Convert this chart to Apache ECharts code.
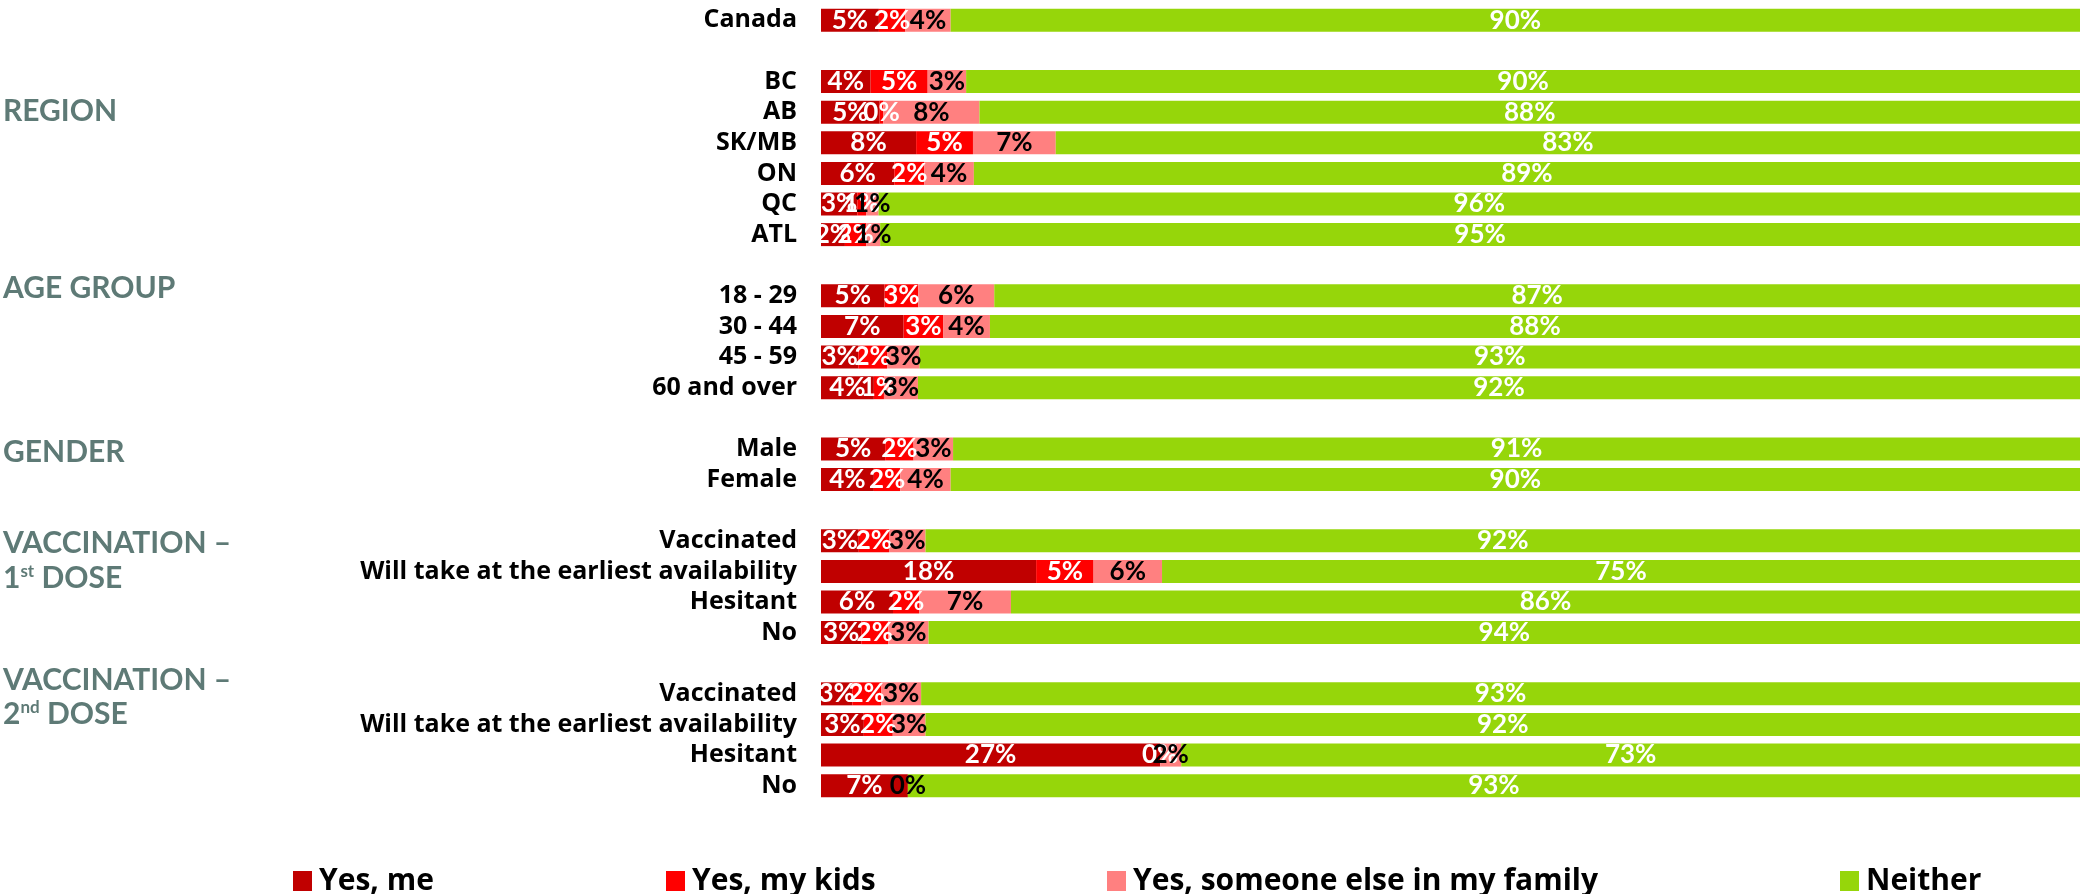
<!DOCTYPE html>
<html>
<head>
<meta charset="utf-8">
<script src="https://cdn.jsdelivr.net/npm/echarts@6/dist/echarts.min.js"></script>
<style>
  html, body { margin: 0; padding: 0; background: #ffffff; }
  #chart { width: 2080px; height: 894px; }
</style>
</head>
<body>
<div id="chart"></div>
<script>
// Row labels (blank strings are spacer rows between groups)
const categories = [
  'Canada', '',
  'BC', 'AB', 'SK/MB', 'ON', 'QC', 'ATL', '',
  '18 - 29', '30 - 44', '45 - 59', '60 and over', '',
  'Male', 'Female', '',
  'Vaccinated', 'Will take at the earliest availability', 'Hesitant', 'No', '',
  'Vaccinated', 'Will take at the earliest availability', 'Hesitant', 'No'
];
const seriesNames = ['Yes, me', 'Yes, my kids', 'Yes, someone else in my family', 'Neither'];

// Estimated raw percentages ('-' = spacer / no bar)
const yesMe = [4.6, '-', 4.0, 4.7, 7.7, 5.9, 2.9, 1.9, '-', 5.1, 6.7, 3.0, 4.2, '-', 5.2, 4.2, '-', 3.0, 17.6, 5.8, 3.3, '-', 2.5, 3.4, 27.4, 6.9];
const yesKids = [2.1, '-', 4.6, 0.3, 4.6, 2.4, 0.7, 1.7, '-', 2.7, 3.2, 2.3, 0.8, '-', 2.3, 2.1, '-', 2.4, 4.7, 2.1, 2.2, '-', 2.3, 2.3, 0, '-'];
const yesFamily = [3.6, '-', 3.1, 7.7, 6.7, 4.0, 1.0, 1.1, '-', 6.1, 3.8, 2.6, 2.7, '-', 3.2, 4.0, '-', 2.9, 5.6, 7.4, 3.3, '-', 3.2, 2.6, 1.7, 0];
const neither = [89.7, '-', 89.8, 88.2, 82.9, 89.0, 96.0, 95.3, '-', 87.1, 88.4, 93.1, 92.3, '-', 91.3, 89.7, '-', 91.7, 75.1, 86.1, 94.2, '-', 92.6, 91.7, 72.6, 93.1];

// Group headings on the left
const groupHeadings = ['REGION', 'AGE GROUP', 'GENDER', 'VACCINATION –', 'VACCINATION –'];

const colors = ['#C00000', '#FF0000', '#FF8080', '#96D60A'];
const labelColors = ['#ffffff', '#ffffff', '#000000', '#ffffff'];
const allSeries = [yesMe, yesKids, yesFamily, neither];

const num = v => (typeof v === 'number' ? v : 0);
const rowTotals = categories.map((c, i) => allSeries.reduce((s, arr) => s + num(arr[i]), 0));

const FONT = 'Lato, "Noto Sans", sans-serif';
const FONT2 = '"Open Sans", "Noto Sans", sans-serif';

const series = allSeries.map((arr, si) => ({
  name: seriesNames[si],
  type: 'bar',
  stack: 'total',
  barWidth: 23,
  itemStyle: { color: colors[si] },
  label: {
    show: true,
    position: 'inside',
    color: labelColors[si],
    fontFamily: FONT,
    fontWeight: 'bold',
    fontSize: 26,
    formatter: p => (p.data && p.data.raw !== undefined ? Math.round(p.data.raw) + '%' : '')
  },
  data: arr.map((v, i) => (typeof v === 'number'
    ? { value: v / rowTotals[i] * 100, raw: v }
    : '-'))
}));

const chart = echarts.init(document.getElementById('chart'));
const GREY = '#5E7A76';
const groupStyle = { fill: GREY, font: 'bold 30px ' + FONT, verticalAlign: 'middle' };
const big = { fill: GREY, fontSize: 30, fontWeight: 'bold', fontFamily: FONT };
const sup = { fill: GREY, fontSize: 17, fontWeight: 'bold', fontFamily: FONT, padding: [0, 0, 12, 0] };

chart.setOption({
  backgroundColor: '#ffffff',
  animation: false,
  grid: { left: 821, right: 0, top: 5, bottom: 93 },
  xAxis: { type: 'value', min: 0, max: 100, show: false },
  yAxis: {
    type: 'category',
    inverse: true,
    data: categories,
    axisLine: { show: false },
    axisTick: { show: false },
    splitLine: { show: false },
    axisLabel: {
      interval: 0,
      color: '#000000', fontWeight: 'bold', fontSize: 25, fontFamily: FONT2, margin: 24
    }
  },
  legend: seriesNames.map((n, i) => ({
    data: [n],
    left: [288, 661, 1102, 1835][i],
    top: 861,
    itemWidth: 19,
    itemHeight: 20,
    itemGap: 0,
    icon: 'rect',
    selectedMode: false,
    textStyle: { color: '#000000', fontWeight: 'bold', fontSize: 30, fontFamily: FONT2, padding: [0, 0, 0, 2] }
  })),
  graphic: [
    { type: 'text', x: 3, y: 111, style: Object.assign({ text: groupHeadings[0] }, groupStyle) },
    { type: 'text', x: 3, y: 288, style: Object.assign({ text: groupHeadings[1] }, groupStyle) },
    { type: 'text', x: 3, y: 452, style: Object.assign({ text: groupHeadings[2] }, groupStyle) },
    { type: 'text', x: 3, y: 543, style: Object.assign({ text: groupHeadings[3] }, groupStyle) },
    { type: 'text', x: 3, y: 578, style: { text: '{b|1}{s|st}{b| DOSE}', verticalAlign: 'middle', rich: { b: big, s: sup } } },
    { type: 'text', x: 3, y: 680, style: Object.assign({ text: groupHeadings[4] }, groupStyle) },
    { type: 'text', x: 3, y: 714, style: { text: '{b|2}{s|nd}{b| DOSE}', verticalAlign: 'middle', rich: { b: big, s: sup } } }
  ],
  series: series
});
</script>
</body>
</html>
